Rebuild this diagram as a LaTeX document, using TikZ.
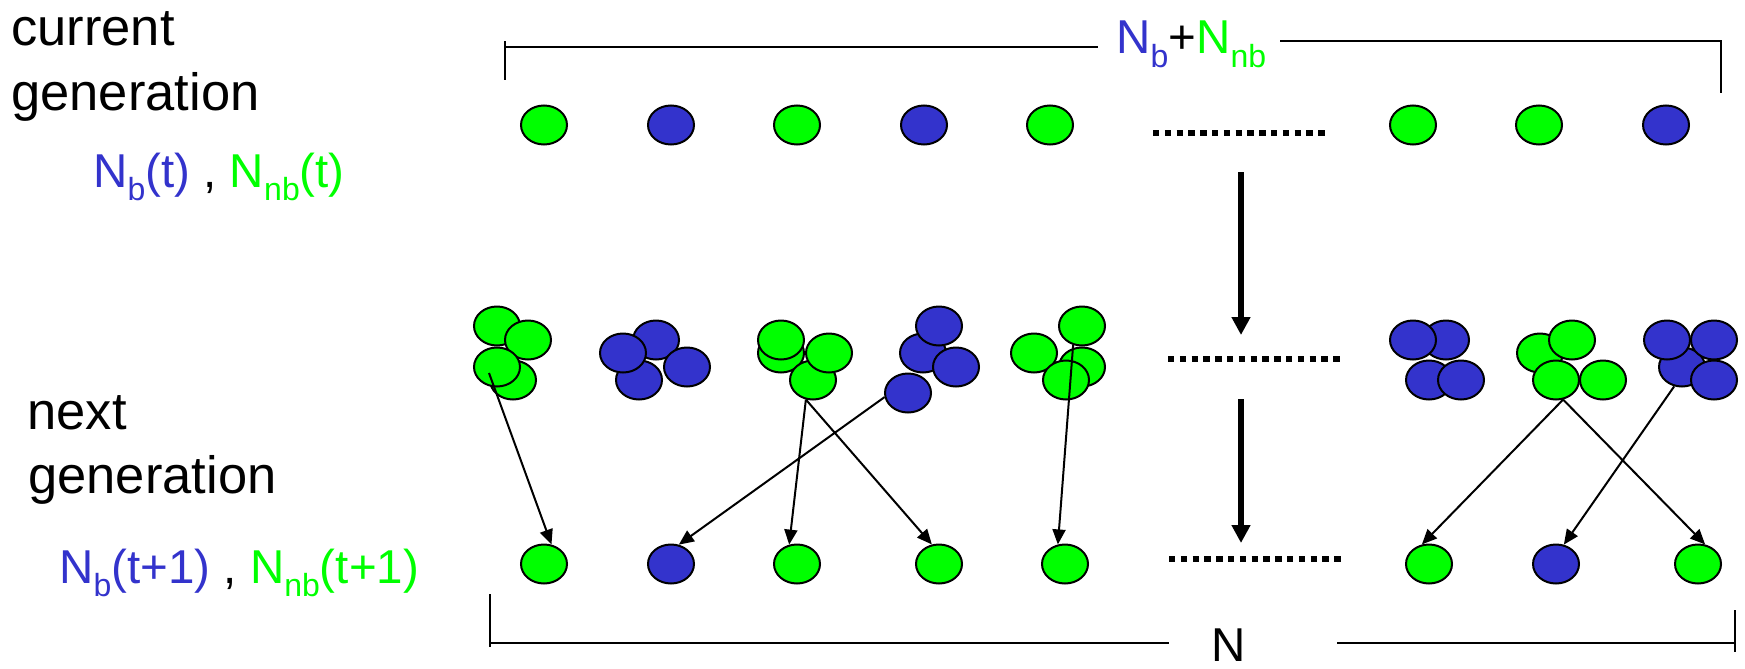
\documentclass[tikz,border=0pt]{standalone}
\usepackage{fontspec}
\setmainfont{Liberation Sans}
\usetikzlibrary{arrows.meta,shapes.geometric}
\definecolor{bblue}{RGB}{51,51,204}
\definecolor{ngreen}{RGB}{0,255,0}
% lowered, smaller index text
\newcommand{\lowsub}[1]{\raisebox{-6.5pt}{\fontsize{16}{16}\selectfont #1}}
\tikzset{
  cell/.style={ellipse, draw=black, line width=1pt, minimum width=23pt,
    minimum height=19.5pt, inner sep=0pt},
  gcell/.style={cell, fill=ngreen},
  bcell/.style={cell, fill=bblue},
  bigtext/.style={inner sep=0pt, anchor=base west, font=\fontsize{26.25}{30}\selectfont},
  formula/.style={inner sep=0pt, font=\fontsize{23.75}{28}\selectfont},
  bracket/.style={line width=0.8pt},
  dots/.style={line width=2.6pt, dash pattern=on 3.2pt off 2.7pt},
  flow/.style={line width=3pt, -{Triangle[length=9pt,width=9pt]}},
  link/.style={line width=1pt, -{Triangle[length=7.5pt,width=6.5pt]}}
}
\begin{document}
\begin{tikzpicture}[x=0.5pt,y=-0.5pt]
\useasboundingbox (0,0) rectangle (1745,669);

% side labels
\node[bigtext] (cur1) at (11,45) {current};
\node[bigtext] (cur2) at (11,110) {generation};
\node[formula, anchor=base west] (curf) at (93,187)
  {\textcolor{bblue}{N\lowsub{b}(t)} , \textcolor{ngreen}{N\lowsub{nb}(t)}};
\node[bigtext] (nxt1) at (27,429) {next};
\node[bigtext] (nxt2) at (28,493) {generation};
\node[formula, anchor=base west] (nxtf) at (59,583)
  {\textcolor{bblue}{N\lowsub{b}(t+1)} , \textcolor{ngreen}{N\lowsub{nb}(t+1)}};

% top bracket
\draw[bracket] (505,41) -- (505,80);
\draw[bracket] (505,47) -- (1098,47);
\draw[bracket] (1280,41) -- (1721,41) -- (1721,93);
\node[formula, anchor=base west] (topn) at (1116,54)
  {\textcolor{bblue}{N\lowsub{b}}+\textcolor{ngreen}{N\lowsub{nb}}};

% current generation
\node[gcell] (t1) at (544,125) {};
\node[bcell] (t2) at (671,125) {};
\node[gcell] (t3) at (797,125) {};
\node[bcell] (t4) at (924,125) {};
\node[gcell] (t5) at (1050,125) {};
\node[gcell] (t6) at (1413,125) {};
\node[gcell] (t7) at (1539,125) {};
\node[bcell] (t8) at (1666,125) {};
\coordinate (d1a) at (1153,133);
\coordinate (d1b) at (1326,133);
\draw[dots] (d1a) -- (d1b);

% offspring clusters
\node[gcell] (c1a) at (497,326) {};
\node[gcell] (c1b) at (528,340) {};
\node[gcell] (c1c) at (513,380) {};
\node[gcell] (c1d) at (497,367) {};

\node[bcell] (c2a) at (656,340) {};
\node[bcell] (c2b) at (639,380) {};
\node[bcell] (c2c) at (623,353) {};
\node[bcell] (c2d) at (687,367) {};

\node[gcell] (c3a) at (781,353) {};
\node[gcell] (c3b) at (781,340) {};
\node[gcell] (c3c) at (813,380) {};
\node[gcell] (c3d) at (829,353) {};

\node[bcell] (c4a) at (923,353) {};
\node[bcell] (c4b) at (939,326) {};
\node[bcell] (c4c) at (956,367) {};
\node[bcell] (c4d) at (908,393) {};

\node[gcell] (c5a) at (1034,353) {};
\node[gcell] (c5b) at (1082,367) {};
\node[gcell] (c5c) at (1082,326) {};
\node[gcell] (c5d) at (1066,380) {};

\node[bcell] (c6a) at (1446,340) {};
\node[bcell] (c6b) at (1413,340) {};
\node[bcell] (c6c) at (1429,380) {};
\node[bcell] (c6d) at (1461,380) {};

\node[gcell] (c7a) at (1540,353) {};
\node[gcell] (c7b) at (1572,340) {};
\node[gcell] (c7c) at (1556,380) {};
\node[gcell] (c7d) at (1603,380) {};

\node[bcell] (c8a) at (1682,367) {};
\node[bcell] (c8b) at (1667,340) {};
\node[bcell] (c8c) at (1714,340) {};
\node[bcell] (c8d) at (1714,380) {};

\coordinate (d2a) at (1168,359);
\coordinate (d2b) at (1343,359);
\draw[dots] (d2a) -- (d2b);

% next generation
\node[gcell] (n1) at (544,564) {};
\node[bcell] (n2) at (671,564) {};
\node[gcell] (n3) at (797,564) {};
\node[gcell] (n4) at (939,564) {};
\node[gcell] (n5) at (1065,564) {};
\node[gcell] (n6) at (1429,564) {};
\node[bcell] (n7) at (1556,564) {};
\node[gcell] (n8) at (1698,564) {};
\coordinate (d3a) at (1169,559);
\coordinate (d3b) at (1341,559);
\draw[dots] (d3a) -- (d3b);

% generation steps
\coordinate (f1a) at (1241,172);
\coordinate (f1b) at (1241,335);
\coordinate (f2a) at (1241,399);
\coordinate (f2b) at (1241,543);
\draw[flow] (f1a) -- (f1b);
\draw[flow] (f2a) -- (f2b);

% sampling links
\coordinate (s1) at ([shift={(-8,6)}]c1d.center);
\draw[link] (s1) -- (n1.69);
\draw[link] (c3c.250) -- (n3.112);
\draw[link] (c3c.250) -- (n4.110);
\draw[link] (c4d.190) -- (n2.68);
\draw[link] (c5c.245) -- (n5.110);
\draw[link] (c7c.290) -- (n6.110);
\draw[link] (c7c.290) -- (n8.70);
\draw[link] (c8a.248) -- (n7.68);

% bottom bracket
\draw[bracket] (490,594) -- (490,647);
\draw[bracket] (490,643) -- (1169,643);
\draw[bracket] (1337,643) -- (1735,643);
\draw[bracket] (1735,610) -- (1735,652);
\node[formula, anchor=base] (botn) at (1229,661) {N};
\end{tikzpicture}
\end{document}
